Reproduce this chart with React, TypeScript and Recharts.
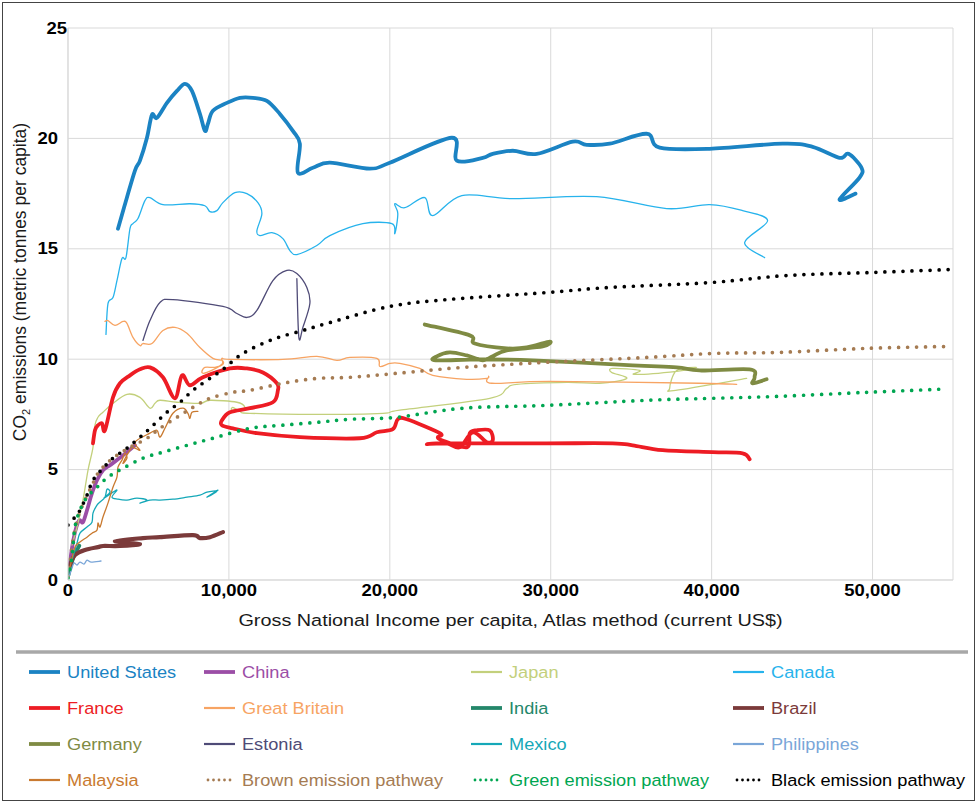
import React from 'react';
import { LineChart, Line, XAxis, YAxis, CartesianGrid, Label } from 'recharts';

type Pt = [number, number];

const xTicks = [0, 10000, 20000, 30000, 40000, 50000];
const yTicks = [0, 5, 10, 15, 20, 25];

const unitedStates: Pt[] = [
  [3106, 15.91], [3478, 16.86], [4161, 18.54], [4472, 18.99], [4907, 20.03], [5217, 21.07], [5528, 20.93],
  [6149, 21.61], [6770, 22.15], [7267, 22.47], [7702, 22.15], [8199, 21.11], [8509, 20.34], [8696, 20.66],
  [9006, 21.25], [9875, 21.61], [10683, 21.84], [11490, 21.84], [12360, 21.7], [13167, 21.11], [13975, 20.34],
  [14410, 19.76], [14285, 18.45], [15217, 18.67], [16273, 18.9], [18757, 18.63], [20000, 18.9], [23850, 20.03],
  [24161, 18.99], [25776, 19.12], [26397, 19.3], [27639, 19.44], [29130, 19.3], [31366, 19.85], [32235, 19.71],
  [33664, 19.76], [35962, 20.21], [36770, 19.58], [39875, 19.53], [44409, 19.76], [46272, 19.62], [47949, 19.12],
  [48508, 19.3], [49315, 18.67], [49191, 18.22], [47949, 17.23], [48943, 17.5],
];

const china: Pt[] = [
  [62, 0.45], [248, 1.45], [435, 2.17], [621, 2.62], [745, 2.71], [932, 2.62], [1180, 3.16], [1491, 3.93],
  [1801, 4.52], [2174, 4.97], [2609, 5.2], [3043, 5.43], [3664, 5.79], [4161, 6.1],
];

const japan: Pt[] = [
  [248, 1.58], [559, 2.4], [932, 3.62], [1242, 4.97], [1553, 6.01], [1677, 7.01], [1863, 7.37], [2174, 7.6],
  [2795, 8.0], [3664, 8.41], [4472, 8.27], [5093, 7.78], [5404, 8.0], [5714, 8.14], [6770, 8.05], [8199, 8.0],
  [8820, 8.14], [10496, 8.05], [10993, 7.82], [10683, 7.69], [10186, 7.69], [10248, 7.82], [10683, 7.64],
  [11304, 7.55], [15466, 7.5], [19565, 7.55], [20621, 7.69], [26211, 8.23], [27266, 8.68], [27888, 8.86],
  [30994, 8.95], [33043, 8.91], [34720, 9.13], [33788, 9.4], [33850, 9.58], [35528, 9.49], [35217, 9.31],
  [37826, 9.45], [39068, 9.63], [37826, 9.49], [37391, 8.68], [37763, 8.59], [42173, 9.13],
];

const canada: Pt[] = [
  [2360, 11.12], [2484, 12.52], [2795, 12.79], [3043, 13.56], [3354, 14.56], [3602, 14.6], [3851, 15.91],
  [4037, 16.14], [4348, 16.37], [4782, 17.18], [5093, 17.32], [5900, 17.0], [7577, 17.04], [8509, 16.95],
  [8820, 16.68], [9254, 16.73], [9627, 17.09], [10372, 17.54], [11118, 17.5], [11801, 17.09], [12049, 16.59],
  [11739, 15.82], [11925, 15.6], [12670, 15.73], [13354, 15.46], [13789, 14.92], [14223, 14.74], [15466, 15.15],
  [16273, 15.6], [18322, 16.14], [20124, 16.14], [20310, 15.69], [20497, 16.59], [20310, 17.04], [20931, 16.86],
  [22173, 17.32], [22670, 16.5], [24471, 17.41], [27639, 17.27], [32856, 17.36], [37204, 16.82], [39875, 17.0],
  [41925, 16.73], [43478, 16.28], [42049, 15.28], [43291, 14.6],
];

const france: Pt[] = [
  [1553, 6.19], [1677, 6.78], [1863, 7.01], [2112, 7.1], [2298, 6.78], [2795, 8.27], [3230, 8.91], [3851, 9.27],
  [4472, 9.54], [5093, 9.63], [5900, 9.18], [6646, 8.23], [7081, 9.27], [7577, 8.82], [8385, 9.18], [10062, 9.58],
  [11118, 9.58], [12111, 9.4], [12981, 8.91], [13043, 8.59], [12733, 8.05], [11304, 7.78], [10062, 7.6],
  [9565, 7.23], [9565, 7.01], [10248, 6.87], [11739, 6.65], [14410, 6.47], [18136, 6.42], [19193, 6.69],
  [20186, 6.83], [20497, 7.28], [21056, 7.28], [23106, 6.65], [22981, 6.47], [23230, 6.33], [24782, 6.01],
  [24968, 6.65], [25404, 6.78], [26211, 6.78], [26397, 6.33], [26024, 6.24], [25155, 6.69], [24347, 6.01],
  [23540, 6.19], [22298, 6.15], [23540, 6.19], [29751, 6.19], [33850, 6.19], [35093, 6.1], [36956, 5.88],
  [40062, 5.79], [41925, 5.74], [42360, 5.47],
];

const greatBritain: Pt[] = [
  [2298, 11.71], [2484, 11.75], [2919, 11.53], [3416, 11.71], [3664, 11.62], [4037, 10.99], [4472, 10.62],
  [4658, 10.71], [5217, 10.71], [5900, 11.3], [6646, 11.44], [7391, 11.17], [8199, 10.53], [9006, 10.04],
  [9565, 9.95], [9627, 9.77], [9130, 9.63], [8509, 9.63], [8323, 9.4], [8633, 9.4], [9565, 9.77], [9565, 10.04],
  [10062, 9.99], [13354, 9.99], [15466, 10.13], [16708, 9.95], [17516, 10.08], [19193, 10.04], [19379, 9.67],
  [20000, 9.81], [20621, 9.81], [21863, 9.58], [22670, 9.27], [24782, 9.09], [26024, 9.13], [26149, 9.22],
  [26335, 8.91], [29938, 9.0], [39255, 8.91], [41553, 8.86],
];

const india: Pt[] = [
  [40, 0.25], [100, 0.45], [200, 0.7], [300, 0.95], [400, 1.15], [550, 1.35], [700, 1.55],
];

const brazil: Pt[] = [
  [124, 0.68], [435, 1.13], [1056, 1.36], [1863, 1.49], [2174, 1.54], [3230, 1.54], [4472, 1.63], [2919, 1.76],
  [4658, 1.9], [5714, 1.94], [7764, 2.03], [8199, 1.9], [8820, 1.94], [9627, 2.17],
];

const germany: Pt[] = [
  [22173, 11.57], [24968, 11.08], [25279, 10.71], [27266, 10.49], [28509, 10.53], [29938, 10.8], [29503, 10.58],
  [27266, 10.4], [26397, 10.13], [25776, 9.95], [24782, 10.17], [23727, 10.31], [22919, 10.13], [22857, 9.95],
  [25590, 9.99], [28882, 9.95], [35093, 9.72], [37826, 9.63], [39255, 9.49], [42360, 9.54], [42670, 9.18],
  [42546, 8.91], [43416, 9.09],
];

const estonia: Pt[] = [
  [4658, 10.85], [5093, 11.75], [5714, 12.57], [6522, 12.7], [9627, 12.39], [10496, 12.07], [11118, 11.89],
  [11739, 12.21], [12733, 13.56], [13602, 14.02], [14223, 13.88], [14844, 13.25], [15031, 12.52], [14596, 11.44],
  [14347, 10.99], [14223, 13.65],
];

const mexico: Pt[] = [
  [248, 0.9], [559, 1.67], [745, 2.12], [1180, 2.4], [1491, 2.62], [1553, 3.03], [1801, 3.39], [1988, 3.53],
  [2298, 3.75], [2422, 4.11], [2609, 3.98], [2236, 3.71], [2795, 3.98], [3043, 4.07], [2733, 3.75], [3106, 3.66],
  [3664, 3.62], [4285, 3.71], [4907, 3.62], [4472, 3.48], [5093, 3.62], [5714, 3.62], [6522, 3.66], [7391, 3.75],
  [8199, 3.84], [8633, 3.98], [9254, 4.02], [8633, 3.75], [9317, 4.07],
];

const philippines: Pt[] = [
  [62, 0.14], [248, 0.54], [373, 0.77], [559, 0.68], [745, 0.81], [994, 0.72], [1180, 0.9], [1429, 0.81], [2050, 0.86],
];

const malaysia: Pt[] = [
  [124, 0.59], [435, 1.49], [745, 1.72], [1180, 1.94], [1491, 2.12], [1801, 2.26], [1863, 2.58], [1988, 2.4],
  [2174, 2.85], [2484, 3.48], [2795, 4.2], [3043, 4.66], [3106, 5.11], [3354, 5.43], [3540, 5.74], [3664, 5.52],
  [3416, 5.29], [3851, 5.88], [4037, 6.01], [4472, 5.88], [4161, 6.24], [5093, 6.65], [5528, 6.78], [5714, 6.47],
  [6025, 6.87], [6522, 7.55], [7143, 7.78], [7453, 7.55], [7577, 7.32], [7702, 7.6], [8074, 7.64],
];

const brownPathway: Pt[] = [
  [0, 0.14], [311, 1.81], [621, 2.85], [1056, 3.62], [1491, 4.29], [1863, 4.84], [2422, 5.29], [3043, 5.65],
  [3851, 6.01], [4907, 6.42], [5714, 6.87], [6770, 7.37], [7764, 7.82], [8820, 8.23], [10248, 8.5], [11304, 8.59],
  [13354, 8.91], [15466, 9.13], [17516, 9.18], [20435, 9.36], [24534, 9.63], [29751, 9.86], [35962, 10.08],
  [40062, 10.26], [44224, 10.31], [49627, 10.49], [54783, 10.58],
];

const greenPathway: Pt[] = [
  [0, 0.09], [248, 1.04], [435, 2.4], [745, 3.16], [1180, 3.75], [1801, 4.2], [2484, 4.66], [3416, 5.06],
  [4658, 5.52], [5900, 5.79], [7391, 6.1], [9006, 6.42], [11304, 6.87], [13354, 7.01], [15466, 7.14],
  [17516, 7.28], [20435, 7.37], [24534, 7.78], [29751, 7.91], [35962, 8.14], [40062, 8.23], [44224, 8.32],
  [49627, 8.5], [54161, 8.64],
];

const blackPathway: Pt[] = [
  [0, 2.49], [435, 2.85], [745, 3.16], [1180, 3.84], [1553, 4.52], [2174, 5.06], [2795, 5.52], [3664, 5.97],
  [4472, 6.47], [5093, 6.87], [6149, 7.6], [6957, 8.05], [7764, 8.59], [8633, 9.04], [9627, 9.54], [10869, 10.26],
  [12733, 10.9], [14596, 11.3], [16273, 11.66], [20000, 12.39], [23540, 12.7], [29751, 13.02], [33664, 13.25],
  [39875, 13.47], [44658, 13.79], [49627, 13.92], [54783, 14.06],
];

type Series = { name: string; pts: Pt[]; color: string; width: number; dotted?: boolean };

const series: Series[] = [
  { name: 'United States', pts: unitedStates, color: '#1b83c3', width: 3.8 },
  { name: 'China', pts: china, color: '#9b4ea6', width: 3.8 },
  { name: 'Japan', pts: japan, color: '#c3d07c', width: 1.3 },
  { name: 'Canada', pts: canada, color: '#27b3ec', width: 1.3 },
  { name: 'France', pts: france, color: '#ed1c24', width: 3.8 },
  { name: 'Great Britain', pts: greatBritain, color: '#f7a463', width: 1.3 },
  { name: 'India', pts: india, color: '#24876a', width: 3.8 },
  { name: 'Brazil', pts: brazil, color: '#7b3a3a', width: 4.2 },
  { name: 'Germany', pts: germany, color: '#7f8b43', width: 3.8 },
  { name: 'Estonia', pts: estonia, color: '#4f4b77', width: 1.3 },
  { name: 'Mexico', pts: mexico, color: '#15a8b8', width: 1.3 },
  { name: 'Philippines', pts: philippines, color: '#7aa6d8', width: 1.3 },
  { name: 'Malaysia', pts: malaysia, color: '#c97a30', width: 1.3 },
  { name: 'Brown emission pathway', pts: brownPathway, color: '#a57b52', width: 3.7, dotted: true },
  { name: 'Green emission pathway', pts: greenPathway, color: '#00a651', width: 3.7, dotted: true },
  { name: 'Black emission pathway', pts: blackPathway, color: '#000000', width: 3.7, dotted: true },
];

// Catmull-Rom style smooth curve through the points (works for paths that loop back)
function smoothCurve(context: any) {
  let pts: number[][] = [];
  return {
    areaStart() {},
    areaEnd() {},
    lineStart() {
      pts = [];
    },
    point(x: number, y: number) {
      pts.push([+x, +y]);
    },
    lineEnd() {
      const n = pts.length;
      if (!n) return;
      context.moveTo(pts[0][0], pts[0][1]);
      if (n === 1) return;
      const t = 1 / 6;
      for (let i = 0; i < n - 1; i++) {
        const p0 = pts[i - 1] || pts[i];
        const p1 = pts[i];
        const p2 = pts[i + 1];
        const p3 = pts[i + 2] || p2;
        context.bezierCurveTo(
          p1[0] + (p2[0] - p0[0]) * t,
          p1[1] + (p2[1] - p0[1]) * t,
          p2[0] - (p3[0] - p1[0]) * t,
          p2[1] - (p3[1] - p1[1]) * t,
          p2[0],
          p2[1]
        );
      }
    },
  };
}

const FONT = '"Liberation Sans", Arial, Helvetica, sans-serif';
const STRETCH = 1.12;

const YTick = (props: any) => {
  const { x, y, payload } = props;
  const dx = payload.value === 25 ? 9 : 0;
  return (
    <text
      transform={`translate(${x + dx}, ${y}) scale(${STRETCH}, 1)`}
      textAnchor="end"
      dominantBaseline="central"
      fontSize={16.5}
      fontWeight={700}
      fill="#000"
    >
      {payload.value}
    </text>
  );
};

const XTick = (props: any) => {
  const { x, y, payload } = props;
  return (
    <text
      transform={`translate(${x}, ${y}) scale(${STRETCH}, 1)`}
      textAnchor="middle"
      dy="0.72em"
      fontSize={16.5}
      fontWeight={700}
      fill="#000"
    >
      {Number(payload.value).toLocaleString('en-US')}
    </text>
  );
};

const XTitle = (props: any) => {
  const vb = props.viewBox || {};
  return (
    <text
      transform={`translate(${vb.x + vb.width / 2}, ${vb.y + 46}) scale(1.14, 1)`}
      textAnchor="middle"
      fontSize={17.4}
      fill="#1a1a1a"
    >
      Gross National Income per capita, Atlas method (current US$)
    </text>
  );
};

const YTitle = (props: any) => {
  const vb = props.viewBox || {};
  const cx = vb.x + 20;
  const cy = 282;
  return (
    <text
      x={cx}
      y={cy}
      transform={`rotate(-90, ${cx}, ${cy})`}
      textAnchor="middle"
      dominantBaseline="central"
      fontSize={17.5}
      fill="#1a1a1a"
    >
      <tspan>CO</tspan>
      <tspan baselineShift="sub" fontSize={11}>2</tspan>
      <tspan> emissions (metric tonnes per capita)</tspan>
    </text>
  );
};

const legendCols = [67, 242, 509, 771];
const legendRows = [32, 68, 104, 140];

const ChartLegend = () => (
  <svg width={978} height={163} style={{ position: 'absolute', left: 0, top: 640 }}>
    <line x1={16} x2={968} y1={12} y2={12} stroke="#a8a8a8" strokeWidth={3.5} />
    {series.map((s, i) => {
      const tx = legendCols[i % 4];
      const ty = legendRows[Math.floor(i / 4)];
      return (
        <g key={s.name}>
          {s.dotted ? (
            <line
              x1={tx - 34}
              x2={tx - 10}
              y1={ty}
              y2={ty}
              stroke={s.color}
              strokeWidth={2.8}
              strokeDasharray="0 5.5"
              strokeLinecap="round"
            />
          ) : (
            <line
              x1={tx - 38}
              x2={tx - 7}
              y1={ty}
              y2={ty}
              stroke={s.color}
              strokeWidth={s.width > 2 ? 3.8 : 2.2}
            />
          )}
          <text
            transform={`translate(${tx}, ${ty}) scale(1.07, 1)`}
            dominantBaseline="central"
            fontSize={17}
            fill={s.color}
            fontFamily={FONT}
          >
            {s.name}
          </text>
        </g>
      );
    })}
  </svg>
);

export default function App() {
  return (
    <div
      style={{
        position: 'absolute',
        left: 0,
        top: 0,
        width: 978,
        height: 803,
        background: '#fff',
        fontFamily: FONT,
        overflow: 'hidden',
      }}
    >
      <div
        style={{
          position: 'absolute',
          left: 2,
          top: 2,
          width: 973,
          height: 799,
          boxSizing: 'border-box',
          border: '1px solid #444',
        }}
      />
      <div style={{ position: 'absolute', left: 0, top: 0 }}>
        <LineChart width={978} height={640} margin={{ top: 28, right: 25, bottom: 0, left: 0 }}>
          <CartesianGrid stroke="#d9d9d9" strokeWidth={1} />
          <XAxis
            type="number"
            dataKey="x"
            domain={[0, 55000]}
            ticks={xTicks}
            allowDataOverflow
            height={60}
            tickSize={0}
            tickMargin={4}
            axisLine={{ stroke: '#d9d9d9' }}
            tickLine={false}
            tick={<XTick />}
          >
            <Label content={<XTitle />} />
          </XAxis>
          <YAxis
            type="number"
            domain={[0, 25]}
            ticks={yTicks}
            allowDataOverflow
            width={68}
            tickSize={0}
            tickMargin={10}
            axisLine={{ stroke: '#d9d9d9' }}
            tickLine={false}
            tick={<YTick />}
          >
            <Label content={<YTitle />} />
          </YAxis>
          {series.map((s) => (
            <Line
              key={s.name}
              name={s.name}
              data={s.pts.map(([x, y]) => ({ x, y }))}
              dataKey="y"
              type={smoothCurve as any}
              stroke={s.color}
              strokeWidth={s.width}
              strokeDasharray={s.dotted ? '0 9' : undefined}
              strokeLinecap="round"
              strokeLinejoin="round"
              dot={false}
              activeDot={false}
              legendType="none"
              isAnimationActive={false}
            />
          ))}
        </LineChart>
      </div>
      <ChartLegend />
    </div>
  );
}
